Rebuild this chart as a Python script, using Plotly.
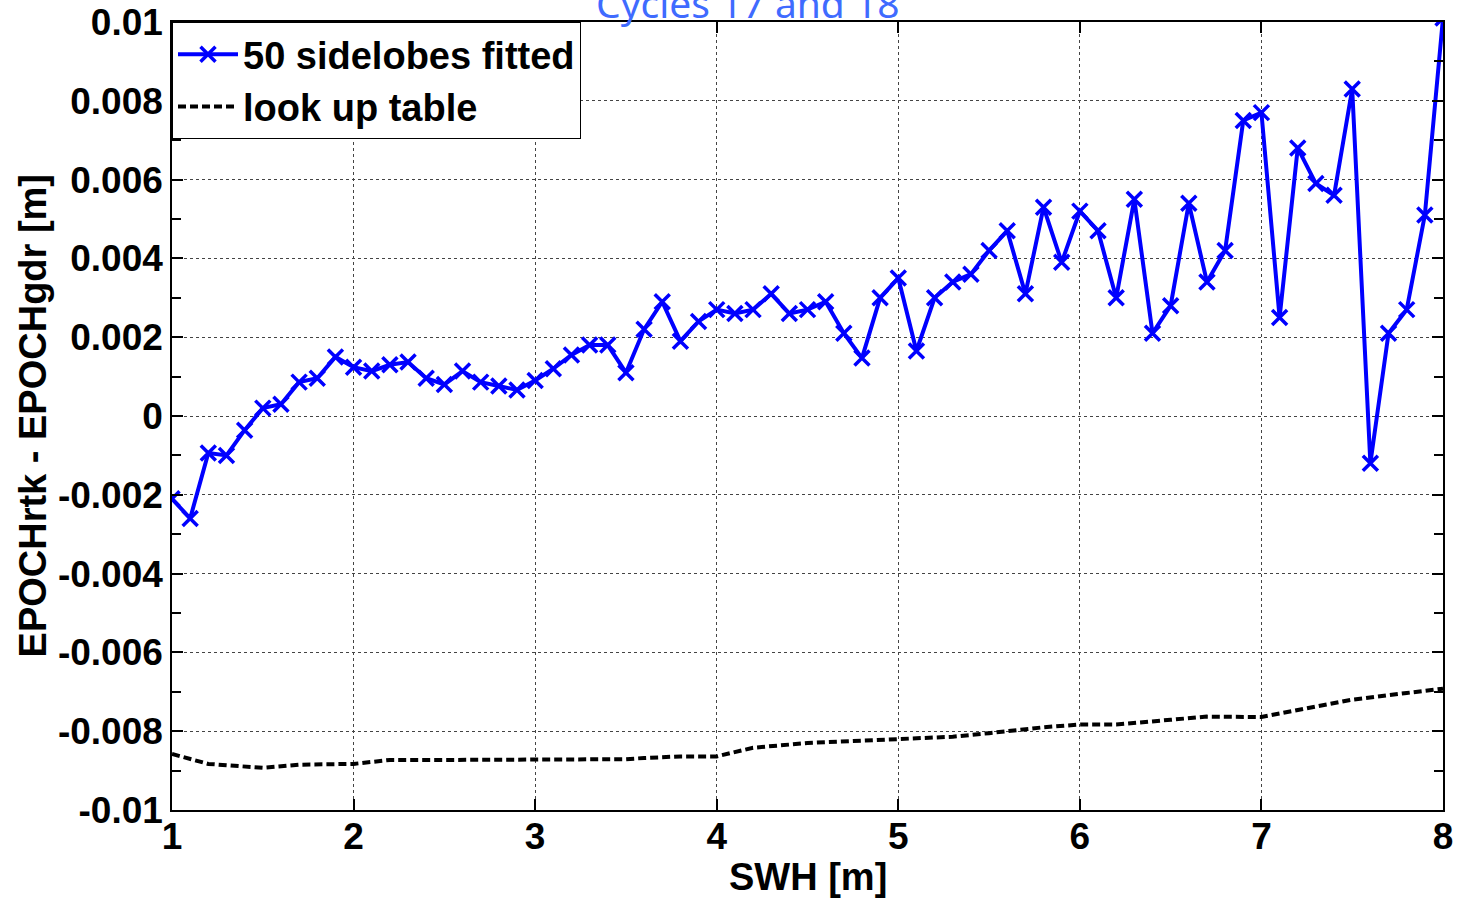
import plotly.graph_objects as go

# SWH [m] positions of the fitted series
swh = [1.0, 1.1, 1.2, 1.3, 1.4, 1.5, 1.6, 1.7, 1.8, 1.9,
       2.0, 2.1, 2.2, 2.3, 2.4, 2.5, 2.6, 2.7, 2.8, 2.9,
       3.0, 3.1, 3.2, 3.3, 3.4, 3.5, 3.6, 3.7, 3.8, 3.9,
       4.0, 4.1, 4.2, 4.3, 4.4, 4.5, 4.6, 4.7, 4.8, 4.9,
       5.0, 5.1, 5.2, 5.3, 5.4, 5.5, 5.6, 5.7, 5.8, 5.9,
       6.0, 6.1, 6.2, 6.3, 6.4, 6.5, 6.6, 6.7, 6.8, 6.9,
       7.0, 7.1, 7.2, 7.3, 7.4, 7.5, 7.6, 7.7, 7.8, 7.9, 8.0]

sidelobes_fitted = [-0.0021, -0.0026, -0.00094, -0.0010, -0.00036, 0.0002, 0.0003, 0.00086, 0.00096, 0.0015,
                    0.00124, 0.00114, 0.0013, 0.00137, 0.00096, 0.0008, 0.00114, 0.00086, 0.00076, 0.00066,
                    0.0009, 0.0012, 0.00155, 0.0018, 0.0018, 0.0011, 0.0022, 0.0029, 0.0019, 0.0024,
                    0.0027, 0.0026, 0.0027, 0.0031, 0.0026, 0.0027, 0.0029, 0.0021, 0.00147, 0.0030,
                    0.0035, 0.00165, 0.0030, 0.0034, 0.0036, 0.0042, 0.0047, 0.0031, 0.0053, 0.0039,
                    0.0052, 0.0047, 0.0030, 0.0055, 0.0021, 0.0028, 0.0054, 0.0034, 0.0042, 0.0075,
                    0.0077, 0.0025, 0.0068, 0.0059, 0.0056, 0.0083, -0.0012, 0.0021, 0.0027, 0.0051, 0.0101]

# Look up table (read at selected SWH values)
lut_swh = [1.0, 1.2, 1.5, 1.7, 2.0, 2.2, 2.5, 3.0, 3.5, 3.6, 3.8, 4.0, 4.2, 4.5, 4.8,
           5.0, 5.3, 5.5, 5.8, 6.0, 6.2, 6.5, 6.7, 7.0, 7.3, 7.5, 7.8, 8.0]
lut_vals = [-0.00858, -0.00883, -0.00893, -0.00885, -0.00883, -0.00873, -0.00873, -0.00873,
            -0.00871, -0.00868, -0.00864, -0.00864, -0.00842, -0.0083, -0.00824,
            -0.00822, -0.00814, -0.00805, -0.0079, -0.00783, -0.00783, -0.00771, -0.00763,
            -0.00764, -0.00739, -0.0072, -0.00703, -0.00692]

y_tickvals = [0.01, 0.008, 0.006, 0.004, 0.002, 0, -0.002, -0.004, -0.006, -0.008, -0.01]
y_ticktext = ["0.01", "0.008", "0.006", "0.004", "0.002", "0", "-0.002", "-0.004", "-0.006", "-0.008", "-0.01"]
x_tickvals = [1, 2, 3, 4, 5, 6, 7, 8]

FONT = "Liberation Sans, Arial, sans-serif"

fig = go.Figure()
fig.add_trace(go.Scatter(
    x=swh, y=sidelobes_fitted, mode="lines+markers", name="50 sidelobes fitted",
    line=dict(color="#0000ff", width=4),
    marker=dict(symbol="x-thin", size=15, line=dict(color="#0000ff", width=3.5)),
))
fig.add_trace(go.Scatter(
    x=lut_swh, y=lut_vals, mode="lines", name="look up table",
    line=dict(color="black", width=4, dash="8px,4px"),
))

axis_common = dict(
    showline=True, linecolor="black", linewidth=1.5, mirror="ticks",
    ticks="inside", tickcolor="black", ticklen=11, tickwidth=1.5,
    showgrid=True, gridcolor="#444444", gridwidth=1, griddash="dot",
    zeroline=False, automargin=False,
    tickfont=dict(family=FONT, size=37, color="black", weight="bold"),
)

fig.update_xaxes(
    range=[1, 8], tickvals=x_tickvals, ticktext=[str(v) for v in x_tickvals],
    ticklabelstandoff=-7,
    **axis_common,
)
fig.update_yaxes(
    range=[-0.01, 0.01], tickvals=y_tickvals, ticktext=y_ticktext,
    minor=dict(dtick=0.001, ticks="inside", ticklen=9, tickcolor="black", tickwidth=1.5, showgrid=False),
    **axis_common,
)

TITLE_FONT = dict(family=FONT, size=38, color="black", weight="bold")
# axis titles
fig.add_annotation(
    text="SWH [m]", xref="paper", yref="paper", x=0.5, y=-0.085,
    xanchor="center", yanchor="middle", showarrow=False, font=TITLE_FONT,
)
fig.add_annotation(
    text="EPOCHrtk - EPOCHgdr [m]", xref="paper", yref="paper", x=-0.109, y=0.5,
    xanchor="center", yanchor="middle", showarrow=False, textangle=-90, font=TITLE_FONT,
)
# chart title (partly cut at the top, as in the original)
fig.add_annotation(
    text="Cycles 17 and 18", xref="paper", yref="paper", x=0.453, y=1.025,
    xanchor="center", yanchor="middle", showarrow=False,
    font=dict(family="Comic Sans MS, Noto Sans, sans-serif", size=39, color="#3f6bff"),
)

fig.update_layout(
    width=1463, height=899,
    margin=dict(l=172, r=20, t=22, b=89, autoexpand=False),
    paper_bgcolor="white", plot_bgcolor="white",
    showlegend=True,
    legend=dict(
        x=0, y=1, xanchor="left", yanchor="top",
        bgcolor="white", bordercolor="black", borderwidth=1,
        font=dict(family=FONT, size=38, color="black", weight="bold"),
        itemwidth=60, tracegroupgap=0,
    ),
)

fig.write_html("out.html")
